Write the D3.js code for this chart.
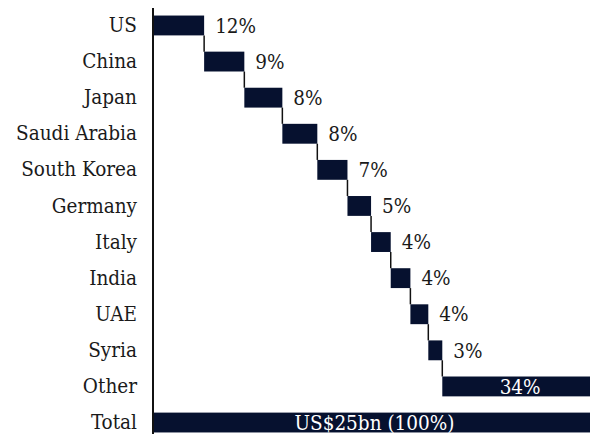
<!DOCTYPE html>
<html>
<head>
<meta charset="utf-8">
<script src="https://cdn.jsdelivr.net/npm/d3@7"></script>
<style>
  body { margin: 0; background: #fff; }
  svg text { font-family: 'DejaVu Serif Condensed', 'DejaVu Serif', serif; }
</style>
</head>
<body>
<div id="chart"></div>
<script>
var width = 590,
  height = 434;

// shares of total (%)
var countries = ['US', 'China', 'Japan', 'Saudi Arabia', 'South Korea', 'Germany',
  'Italy', 'India', 'UAE', 'Syria', 'Other'];
var shares = [11.7, 9.2, 8.7, 8.0, 6.9, 5.4, 4.5, 4.5, 4.1, 3.2, 33.8];
var shareLabels = ['12%', '9%', '8%', '8%', '7%', '5%', '4%', '4%', '4%', '3%', '34%'];
var totalName = 'Total';
var totalValue = 100;
var totalLabel = 'US$25bn (100%)';

var barColor = '#06112f';
var fontSize = '20.5px';

// running start/end for each step of the waterfall
var steps = [];
var run = 0;
shares.forEach(function (v, i) {
  steps.push({ name: countries[i], start: run, end: run + v, label: shareLabels[i] });
  run += v;
});

var svg = d3
  .select('#chart')
  .append('svg')
  .attr('width', width)
  .attr('height', height);

var xScale = d3.scaleLinear().domain([0, totalValue]).range([153, 590]);

var yScale = d3
  .scaleBand()
  .domain(countries.concat([totalName]))
  .range([-0.7, 448.7])
  .paddingInner(0.45)
  .paddingOuter(0.45);

// category labels
var yAxis = d3.axisLeft(yScale).tickSize(0).tickPadding(16);
var yG = svg
  .append('g')
  .attr('transform', 'translate(153,0)')
  .call(yAxis);
yG.select('.domain').remove();
yG.selectAll('text')
  .style('font-size', fontSize)
  .style('fill', '#1a1a1a');

// connectors between steps
svg
  .selectAll('line.conn')
  .data(steps.slice(0, -1))
  .enter()
  .append('line')
  .attr('class', 'conn')
  .attr('x1', function (d) { return xScale(d.end); })
  .attr('x2', function (d) { return xScale(d.end); })
  .attr('y1', function (d) { return yScale(d.name) + yScale.bandwidth(); })
  .attr('y2', function (d, i) { return yScale(steps[i + 1].name); })
  .attr('stroke', '#111')
  .attr('stroke-width', 1.5);

svg
  .selectAll('rect.bar')
  .data(steps)
  .enter()
  .append('rect')
  .attr('class', 'bar')
  .attr('x', function (d) { return xScale(d.start); })
  .attr('y', function (d) { return yScale(d.name); })
  .attr('width', function (d) { return xScale(d.end) - xScale(d.start); })
  .attr('height', yScale.bandwidth())
  .style('fill', barColor);

svg
  .append('rect')
  .attr('x', xScale(0))
  .attr('y', yScale(totalName))
  .attr('width', xScale(totalValue) - xScale(0))
  .attr('height', yScale.bandwidth())
  .style('fill', barColor);

// value labels: outside for small steps, inside (white) for the big one
svg
  .selectAll('text.val')
  .data(steps)
  .enter()
  .append('text')
  .attr('class', 'val')
  .attr('x', function (d) {
    return d.end - d.start > 20 ? xScale((d.start + d.end) / 2) + 4 : xScale(d.end) + 11;
  })
  .attr('y', function (d) { return yScale(d.name) + yScale.bandwidth() / 2; })
  .attr('dy', '0.35em')
  .attr('text-anchor', function (d) { return d.end - d.start > 20 ? 'middle' : 'start'; })
  .style('font-size', fontSize)
  .style('fill', function (d) { return d.end - d.start > 20 ? '#fff' : '#1a1a1a'; })
  .text(function (d) { return d.label; });

svg
  .append('text')
  .attr('x', xScale(totalValue / 2) + 3)
  .attr('y', yScale(totalName) + yScale.bandwidth() / 2)
  .attr('dy', '0.35em')
  .attr('text-anchor', 'middle')
  .style('font-size', fontSize)
  .style('fill', '#fff')
  .text(totalLabel);

// vertical axis line
svg
  .append('line')
  .attr('x1', 153)
  .attr('x2', 153)
  .attr('y1', 8)
  .attr('y2', height)
  .attr('stroke', '#111')
  .attr('stroke-width', 2);
</script>
</body>
</html>
